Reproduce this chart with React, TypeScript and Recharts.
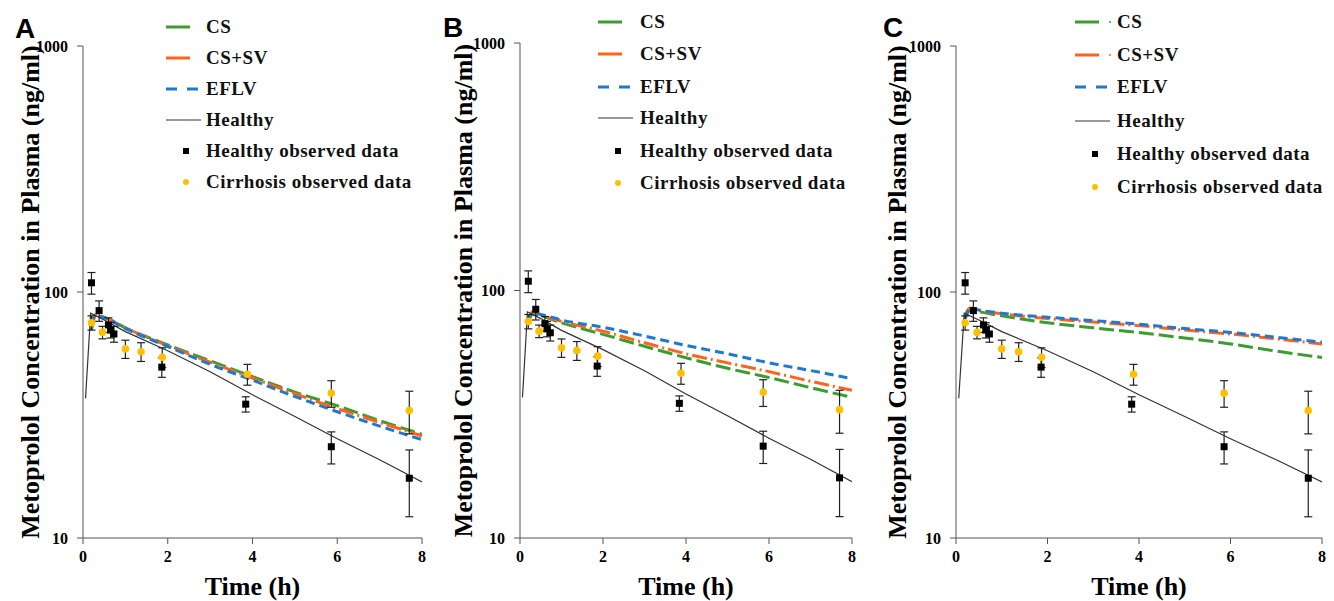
import React from 'react';
import { ComposedChart, Line, Scatter, XAxis, YAxis, ErrorBar } from 'recharts';

// ---------- data ----------
const timeTicks = [0, 2, 4, 6, 8];
const concTicks = [10, 100, 1000];

const healthySimTime = [0.06, 0.18, 0.5, 1, 2, 3, 4, 5, 6, 7, 8];
const healthySimConc = [37, 82, 77, 69, 57.7, 47.4, 38.2, 31.2, 25.3, 20.8, 16.9];

const simTime = [0.2, 0.3, 0.5, 1, 2, 3, 4, 5, 6, 7, 8];

// Panel A
const csA = [70, 80, 79, 71.5, 61, 52.5, 45.3, 39.2, 34.5, 30, 26.4];
const cssvA = [72, 81, 79, 71.5, 60.5, 51.8, 44.7, 38.6, 33.6, 29.5, 26];
const eflvA = [73, 80, 78.5, 71, 60, 50.8, 43.8, 37.6, 32.6, 28.5, 25.1];

// Panel B
const csB = [74, 80, 79, 74, 66.5, 59.5, 53.5, 48.5, 44.5, 40.5, 37];
const cssvB = [76, 82, 79.5, 75, 68.5, 61.5, 55.5, 51, 47, 43, 39.5];
const eflvB = [75, 81, 80, 76, 71, 65.5, 60, 55.5, 51, 47.5, 44];

// Panel C
const csC = [78, 84, 83, 80, 75, 71.5, 68.4, 65, 61.5, 57.5, 54.2];
const cssvC = [80, 86, 84, 81.5, 78, 75.5, 73, 70, 67.5, 64.5, 61.5];
const eflvC = [78, 86, 84.5, 82, 79, 76.5, 74, 71, 68.5, 65.5, 62.5];

// Observed data
const healthyObsTime = [0.2, 0.38, 0.6, 0.65, 0.73, 1.86, 3.84, 5.86, 7.7];
const healthyObsConc = [109, 84, 73.5, 70, 67.5, 49.5, 35, 23.5, 17.5];
const healthyObsErr = [11, 8, 5, 5, 5, 4.5, 2.5, 3.5, 5.3];

const cirrhosisObsTime = [0.2, 0.46, 1.0, 1.37, 1.87, 3.88, 5.86, 7.7];
const cirrhosisObsConc = [75, 68.5, 58.7, 57.2, 54.3, 46.3, 38.8, 33];
const cirrhosisObsErr = [5, 4, 5, 5, 5, 4.5, 4.8, 6.5];

const legendLabels = ['CS', 'CS+SV', 'EFLV', 'Healthy', 'Healthy observed data', 'Cirrhosis observed data'];
const panelLetters = ['A', 'B', 'C'];

// ---------- helpers ----------
const toSeries = (ts: number[], vs: number[], errs?: number[]) =>
  ts.map((t, i) => ({ t, v: vs[i], err: errs ? errs[i] : undefined }));

const healthySim = toSeries(healthySimTime, healthySimConc);
const healthyObs = toSeries(healthyObsTime, healthyObsConc, healthyObsErr);
const cirrhosisObs = toSeries(cirrhosisObsTime, cirrhosisObsConc, cirrhosisObsErr);

const GREEN = '#3A9E2F';
const ORANGE = '#FF6319';
const BLUE = '#1F78D1';
const YELLOW = '#FFC000';
const SERIF = '"Liberation Serif", "Times New Roman", serif';
const SANS = '"Liberation Sans", Arial, sans-serif';

const panels = [
  {
    panelLeft: 0, panelWidth: 440, plotLeft: 83, plotRight: 422, plotTop: 46, plotBottom: 538,
    cs: csA, cssv: cssvA, eflv: eflvA,
    letterX: 15, letterY: 38, yLabelX: 30,
    legLineX: 166, legTextX: 206, legRows: [27, 58, 89, 120, 151, 182], legDots: false,
  },
  {
    panelLeft: 440, panelWidth: 440, plotLeft: 520, plotRight: 852, plotTop: 43, plotBottom: 538,
    cs: csB, cssv: cssvB, eflv: eflvB,
    letterX: 443, letterY: 37, yLabelX: 463,
    legLineX: 598, legTextX: 640, legRows: [22, 54, 87, 118, 151, 183], legDots: false,
  },
  {
    panelLeft: 876, panelWidth: 458, plotLeft: 956, plotRight: 1322, plotTop: 46, plotBottom: 538,
    cs: csC, cssv: cssvC, eflv: eflvC,
    letterX: 883, letterY: 37, yLabelX: 897,
    legLineX: 1075, legTextX: 1117, legRows: [22, 55, 87, 121, 154, 187], legDots: true,
  },
];

const squareShape = (props: any) => (
  <rect x={props.cx - 3.5} y={props.cy - 3.5} width={7} height={7} fill="#000" />
);
const dotShape = (props: any) => <circle cx={props.cx} cy={props.cy} r={3.8} fill={YELLOW} />;

const tickStyle = { fill: '#000', fontSize: 16, fontWeight: 'bold', fontFamily: SERIF } as any;

function Panel({ p, idx }: { p: any; idx: number }) {
  const H = 601;
  const xAxisH = 30;
  const yAxisW = 60;
  return (
    <div style={{ position: 'absolute', left: p.panelLeft, top: 0 }}>
      <ComposedChart
        width={p.panelWidth}
        height={H}
        margin={{
          top: p.plotTop,
          right: p.panelLeft + p.panelWidth - p.plotRight,
          bottom: H - p.plotBottom - xAxisH,
          left: p.plotLeft - p.panelLeft - yAxisW,
        }}
      >
        <XAxis
          type="number"
          dataKey="t"
          domain={[0, 8]}
          ticks={timeTicks}
          interval={0}
          allowDataOverflow
          height={xAxisH}
          tickSize={6}
          tickMargin={7}
          stroke="#555"
          tick={tickStyle}
        />
        <YAxis
          type="number"
          dataKey="v"
          scale="log"
          domain={[10, 1000]}
          ticks={concTicks}
          interval={0}
          allowDataOverflow
          width={yAxisW}
          tickSize={6}
          tickMargin={9}
          stroke="#555"
          tick={tickStyle}
        />
        <Line data={toSeries(simTime, p.cs)} dataKey="v" type="monotone" stroke={GREEN} strokeWidth={3}
          strokeDasharray="15 5" dot={false} isAnimationActive={false} />
        <Line data={toSeries(simTime, p.cssv)} dataKey="v" type="monotone" stroke={ORANGE} strokeWidth={3}
          strokeDasharray="15 4 2 4" dot={false} isAnimationActive={false} />
        <Line data={toSeries(simTime, p.eflv)} dataKey="v" type="monotone" stroke={BLUE} strokeWidth={3}
          strokeDasharray="9 5" dot={false} isAnimationActive={false} />
        <Line data={healthySim} dataKey="v" type="linear" stroke="#333" strokeWidth={1.2}
          dot={false} isAnimationActive={false} />
        <Scatter data={cirrhosisObs} dataKey="v" shape={dotShape} isAnimationActive={false}>
          <ErrorBar dataKey="err" direction="y" width={4} stroke="#222" strokeWidth={1.2} />
        </Scatter>
        <Scatter data={healthyObs} dataKey="v" shape={squareShape} isAnimationActive={false}>
          <ErrorBar dataKey="err" direction="y" width={4} stroke="#222" strokeWidth={1.2} />
        </Scatter>
      </ComposedChart>
    </div>
  );
}

function Overlay() {
  return (
    <svg width={1334} height={601} style={{ position: 'absolute', left: 0, top: 0, pointerEvents: 'none' }}>
      {panels.map((p, i) => {
        const cy = (p.plotTop + p.plotBottom) / 2;
        const cx = (p.plotLeft + p.plotRight) / 2;
        const L = p.legLineX;
        const r = p.legRows;
        return (
          <g key={i}>
            <text x={p.letterX} y={p.letterY} fontFamily={SANS} fontWeight="bold" fontSize={28} fill="#000">
              {panelLetters[i]}
            </text>
            <text
              transform={`translate(${p.yLabelX},${cy}) rotate(-90)`}
              textAnchor="middle"
              dominantBaseline="central"
              fontFamily={SERIF}
              fontWeight="bold"
              fontSize={26}
              fill="#000"
            >
              Metoprolol Concentration in Plasma (ng/ml)
            </text>
            <text x={cx} y={595} textAnchor="middle" fontFamily={SERIF} fontWeight="bold" fontSize={26} fill="#000">
              Time (h)
            </text>
            {/* legend */}
            <line x1={L} x2={L + 24} y1={r[0]} y2={r[0]} stroke={GREEN} strokeWidth={3} />
            <line x1={L} x2={L + 24} y1={r[1]} y2={r[1]} stroke={ORANGE} strokeWidth={3} />
            {p.legDots && <circle cx={L + 35} cy={r[0]} r={1} fill={GREEN} />}
            {p.legDots && <circle cx={L + 35} cy={r[1]} r={1} fill={ORANGE} />}
            <line x1={L} x2={L + 34} y1={r[2]} y2={r[2]} stroke={BLUE} strokeWidth={3} strokeDasharray="11 10" />
            <line x1={L} x2={L + 35} y1={r[3]} y2={r[3]} stroke="#333" strokeWidth={1.2} />
            <rect x={L + 17} y={r[4] - 3} width={6} height={6} fill="#000" />
            <circle cx={L + 20} cy={r[5]} r={3} fill={YELLOW} />
            {legendLabels.map((lab, j) => (
              <text key={j} x={p.legTextX} y={r[j] + 6} fontFamily={SERIF} fontWeight="bold" fontSize={19}
                letterSpacing={0.5} fill="#111">
                {lab}
              </text>
            ))}
          </g>
        );
      })}
    </svg>
  );
}

export default function App() {
  return (
    <div style={{ position: 'absolute', left: 0, top: 0, width: 1334, height: 601, background: '#fff' }}>
      {panels.map((p, i) => (
        <Panel key={i} p={p} idx={i} />
      ))}
      <Overlay />
    </div>
  );
}
